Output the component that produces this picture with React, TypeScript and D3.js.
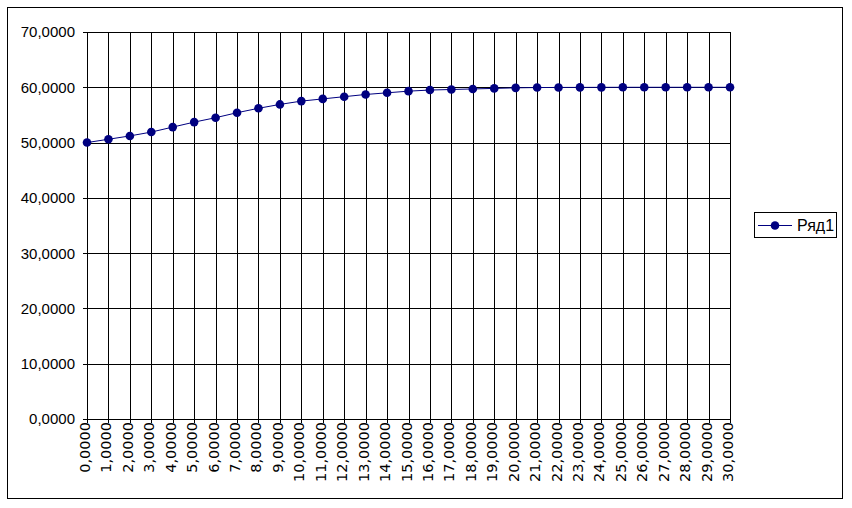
import React from "react";
import * as d3 from "d3";

const categories: number[] = Array.from({ length: 31 }, (_, i) => i);
const seriesName = "Ряд1";
const values: number[] = [
  50.0, 50.6, 51.2, 51.9, 52.8, 53.7, 54.5, 55.4, 56.2, 56.9,
  57.5, 57.9, 58.3, 58.7, 59.0, 59.3, 59.5, 59.6, 59.7, 59.8,
  59.9, 59.95, 59.97, 59.98, 59.99, 60.0, 60.0, 60.0, 60.0, 60.0, 60.0,
];
const yTicks: number[] = [0, 10, 20, 30, 40, 50, 60, 70];

const fmt = (v: number) => v.toFixed(4).replace(".", ",");

export default function App() {
  const W = 852, H = 508;
  const x = d3.scaleLinear().domain([0, 30]).range([87, 730]);
  const y = d3.scaleLinear().domain([0, 70]).range([419, 32]);
  const line = d3
    .line<number>()
    .x((_, i) => x(categories[i]))
    .y((d) => y(d));
  const navy = "#000080";
  const r = (v: number) => Math.round(v) + 0.5;

  return (
    <svg
      width={W}
      height={H}
      style={{ position: "absolute", left: 0, top: 0, background: "#fff" }}
    >
      <rect x={7.5} y={7.5} width={835} height={491} fill="#fff" stroke="#000" strokeWidth={1} />
      {yTicks.map((t) => (
        <g key={"y" + t}>
          <line x1={83} x2={730} y1={r(y(t))} y2={r(y(t))} stroke="#000" strokeWidth={1} />
          <text
            x={75}
            y={y(t)}
            dy="0.36em"
            textAnchor="end"
            fontFamily="Liberation Sans, Arial, sans-serif"
            fontSize={15}
            fill="#000"
          >
            {fmt(t)}
          </text>
        </g>
      ))}
      {categories.map((c) => (
        <g key={"x" + c}>
          <line x1={r(x(c))} x2={r(x(c))} y1={y(70)} y2={423} stroke="#000" strokeWidth={1} />
          <text
            transform={`translate(${x(c) + 3},${422}) rotate(-90)`}
            textAnchor="end"
            fontFamily="DejaVu Sans, sans-serif"
            fontSize={14.5}
            fill="#000"
          >
            {fmt(c)}
          </text>
        </g>
      ))}
      <path d={line(values) || ""} fill="none" stroke={navy} strokeWidth={1} />
      {values.map((v, i) => (
        <circle key={"p" + i} cx={x(categories[i])} cy={y(v)} r={4.3} fill={navy} />
      ))}
      <rect x={754.5} y={212.5} width={82} height={25} fill="#fff" stroke="#000" strokeWidth={1} />
      <line x1={758} x2={792} y1={225.5} y2={225.5} stroke={navy} strokeWidth={1} />
      <circle cx={775} cy={225.5} r={4.3} fill={navy} />
      <text
        x={797}
        y={225.5}
        dy="0.36em"
        fontFamily="Liberation Sans, Arial, sans-serif"
        fontSize={16}
        fill="#000"
      >
        {seriesName}
      </text>
    </svg>
  );
}
